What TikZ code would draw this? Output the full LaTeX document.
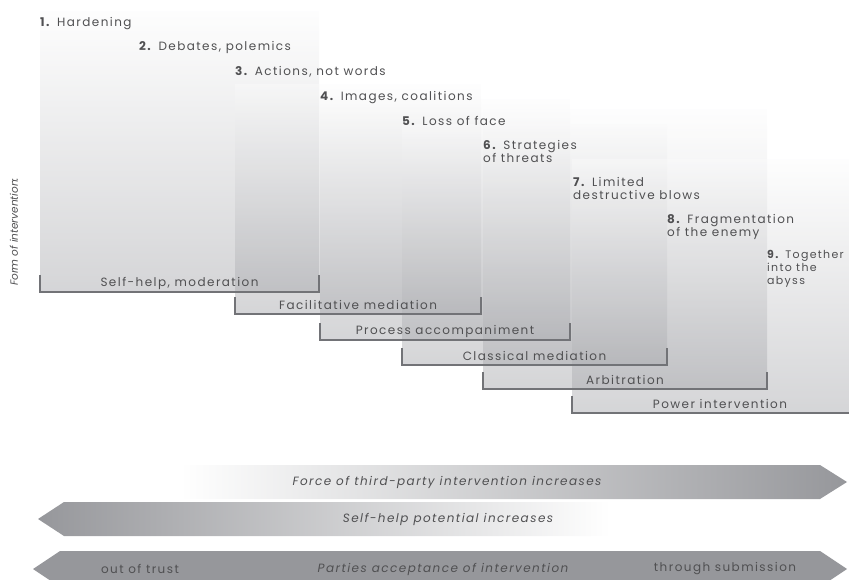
\documentclass[tikz,border=0pt]{standalone}
\usepackage{fontspec}
\setmainfont{Poppins}[LetterSpace=12]
\newfontfamily\narrowfont{Poppins}

\definecolor{txtgray}{HTML}{505052}
\definecolor{colgray}{HTML}{9A9BA0}
\definecolor{arrgray}{HTML}{96979B}
\definecolor{brkgray}{HTML}{727377}

\begin{document}
\begin{tikzpicture}[x=1pt,y=-1pt,
  stage/.style={anchor=north west,inner sep=0pt,align=left,text=txtgray,
    font=\fontsize{12}{12.8}\selectfont},
  band/.style={top color=white!96!colgray,bottom color=colgray,fill opacity=0.42},
  bracket/.style={draw=brkgray,line width=1.1pt},
  formtext/.style={inner sep=0pt,text=txtgray,font=\fontsize{12}{13}\selectfont},
  arrtext/.style={inner sep=0pt,text=txtgray,font=\fontsize{12}{13}\selectfont\itshape},
  plaintext/.style={inner sep=0pt,text=txtgray,font=\fontsize{12}{13}\selectfont}]
\useasboundingbox (0,0) rectangle (849,580);

\foreach \l/\r/\t/\b in {40/319/12/292,235/481/85/314,320/570/100/340,
    402/667/125/365,483/767/110/389,572/868/160/413}
  \shade[band] (\l,\t) rectangle (\r,\b);

\foreach \l/\r/\b/\txt [count=\i] in {40/319/292/{Self-help, moderation},
    235/481/314/{Facilitative mediation},320/570/340/{Process accompaniment},
    402/667/365/{Classical mediation},483/767/389/{Arbitration},
    572/868/413/{Power intervention}}
{
  \draw[bracket] (\l,\b-17) -- (\l,\b) -- (\r,\b) -- (\r,\b-17);
  \node[formtext] (form\i) at ({(\l+\r)/2},\b-9) {\txt};
}

\node[stage] (s1) at (40,17) {\textbf{1.} Hardening};
\node[stage] (s2) at (139,41) {\textbf{2.} Debates, polemics};
\node[stage] (s3) at (235,66) {\textbf{3.} Actions, not words};
\node[stage] (s4) at (320,91) {\textbf{4.} Images, coalitions};
\node[stage] (s5) at (402,116) {\textbf{5.} Loss of face};
\node[stage] (s6) at (483,140) {\textbf{6.} Strategies\\of threats};
\node[stage] (s7) at (573,177) {\textbf{7.} Limited\\destructive blows};
\node[stage] (s8) at (667,214) {\textbf{8.} Fragmentation\\of the enemy};
\node[stage,font=\fontsize{11}{12.8}\selectfont] (s9) at (767,250) {\textbf{9.} Together\\into the\\abyss};

\node[rotate=90,inner sep=0pt,text=txtgray,font=\narrowfont\fontsize{10.5}{11}\selectfont\itshape]
  (formlbl) at (14,232) {Form of intervention:};

\shade[left color=white,right color=arrgray]
  (180,465) -- (820,465) -- (847,482) -- (820,499) -- (180,499) -- cycle;
\shade[left color=arrgray,right color=white]
  (38,519) -- (64,502) -- (610,502) -- (610,536) -- (64,536) -- cycle;
\shade[left color=arrgray,middle color=arrgray!30,right color=arrgray]
  (33,569) -- (60,551) -- (820,551) -- (847,569) -- (820,587) -- (60,587) -- cycle;

\node[arrtext] (force) at (447,482) {Force of third-party intervention increases};
\node[arrtext] (selfhelp) at (448,519) {Self-help potential increases};
\node[arrtext] (accept) at (443,569) {Parties acceptance of intervention};
\node[plaintext] (trust) at (140,569) {out of trust};
\node[plaintext] (submit) at (725,569) {through submission};
\end{tikzpicture}
\end{document}
